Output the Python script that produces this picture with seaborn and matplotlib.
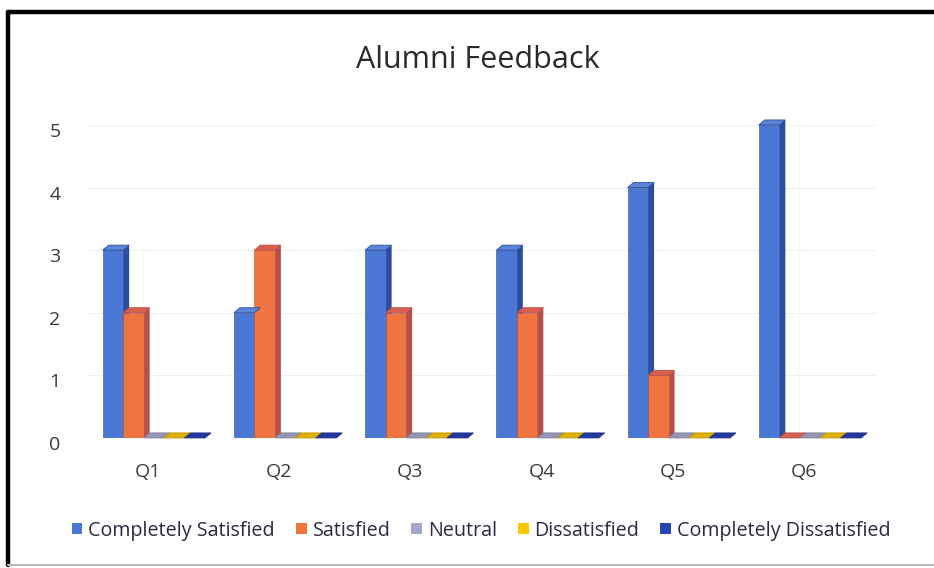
import numpy as np
import pandas as pd
import seaborn as sns
import matplotlib.pyplot as plt
import matplotlib.transforms as mtransforms
from matplotlib.patches import Polygon
from matplotlib.lines import Line2D

# data
questions = ["Q1", "Q2", "Q3", "Q4", "Q5", "Q6"]
series = ["Completely Satisfied", "Satisfied", "Neutral", "Dissatisfied", "Completely Dissatisfied"]
completely_satisfied = [3, 2, 3, 3, 4, 5]
satisfied = [2, 3, 2, 2, 1, 0]
neutral = [0, 0, 0, 0, 0, 0]
dissatisfied = [0, 0, 0, 0, 0, 0]
completely_dissatisfied = [0, 0, 0, 0, 0, 0]
y_ticks = [0, 1, 2, 3, 4, 5]

front_colors = ["#4A78D4", "#F07440", "#A4A8C8", "#F8C800", "#2744B0"]
side_colors = ["#2C4C9C", "#B4504A", "#7C7E98", "#C09800", "#1A2E80"]
top_colors = ["#5A86DA", "#D8604C", "#9496B4", "#E0B000", "#2238A0"]

values = [completely_satisfied, satisfied, neutral, dissatisfied, completely_dissatisfied]
df = pd.DataFrame({
    "Question": np.repeat([questions], len(series), axis=0).ravel(),
    "Rating": np.repeat(series, len(questions)),
    "Count": np.concatenate(values),
})

sns.set_theme(style="white")
plt.rcParams["font.family"] = ["Open Sans", "DejaVu Sans"]

fig = plt.figure(figsize=(9.34, 5.68), dpi=100)
ax = fig.add_axes([0.0945, 0.229, 0.843, 0.551])

sns.barplot(data=df, x="Question", y="Count", hue="Rating", order=questions,
            hue_order=series, palette=front_colors, width=0.78, saturation=1,
            edgecolor="none", linewidth=0, ax=ax, legend=False)

ax.set_xlim(-0.5, len(questions) - 0.5)
ax.set_ylim(0, 5)
ax.set_yticks(y_ticks)
ax.set_xlabel("")
ax.set_ylabel("")
for s in ax.spines.values():
    s.set_visible(False)
for y in y_ticks[1:]:
    ax.axhline(y, color="#EFEFEF", lw=0.8, zorder=0)

# 3D look: side and top faces computed from each drawn bar
dx_px, dy_px = 6.0, 5.0
inv = ax.transData.inverted()
p0 = inv.transform(ax.transData.transform((0, 0)))
p1 = inv.transform(ax.transData.transform((0, 0)) + np.array([dx_px, dy_px]))
ddx, ddy = p1 - p0
for k, cont in enumerate(ax.containers):
    for bar in cont.patches:
        x0 = bar.get_x()
        w = bar.get_width()
        h = bar.get_height()
        x1 = x0 + w
        side = Polygon([(x1, 0), (x1 + ddx, ddy), (x1 + ddx, h + ddy), (x1, h)],
                       closed=True, facecolor=side_colors[k], edgecolor="none",
                       zorder=bar.get_zorder() - 0.1, clip_on=False)
        top = Polygon([(x0, h), (x1, h), (x1 + ddx, h + ddy), (x0 + ddx, h + ddy)],
                      closed=True, facecolor=top_colors[k], edgecolor=side_colors[k],
                      linewidth=0.6, zorder=bar.get_zorder() + 0.1, clip_on=False)
        ax.add_patch(side)
        ax.add_patch(top)
        bar.set_edgecolor(side_colors[k])
        bar.set_linewidth(0.4)

ax.tick_params(axis="both", length=0, labelsize=14, colors="#3A3A3A")
ax.tick_params(axis="y", pad=20)
ax.tick_params(axis="x", pad=18)
shift_x = mtransforms.ScaledTranslation(-6 / 100, 0, fig.dpi_scale_trans)
for lbl in ax.get_xticklabels():
    lbl.set_transform(lbl.get_transform() + shift_x)
shift_y = mtransforms.ScaledTranslation(0, -5 / 100, fig.dpi_scale_trans)
for lbl in ax.get_yticklabels():
    lbl.set_transform(lbl.get_transform() + shift_y)

fig.text(0.512, 0.895, "Alumni Feedback", ha="center", va="center",
         fontsize=22, color="#2A2A2A")

handles = [plt.Rectangle((0, 0), 1, 1, facecolor=c, edgecolor="none") for c in front_colors]
fig.legend(handles, series, loc="center", bbox_to_anchor=(0.515, 0.066), ncol=5,
           frameon=False, fontsize=14.2, handlelength=0.55, handleheight=0.55,
           handletextpad=0.3, columnspacing=1.05, labelcolor="#2A2A40")

# scanned frame around the chart
fig.add_artist(Line2D([0.0086, 0.0086], [0.005, 0.979], color="black", lw=3.2))
fig.add_artist(Line2D([0.0086, 1.0], [0.979, 0.979], color="black", lw=3.2))
fig.add_artist(Line2D([0.0086, 1.0], [0.005, 0.005], color="#BBBBBB", lw=1.5))

fig.savefig("out.png", dpi=100)
